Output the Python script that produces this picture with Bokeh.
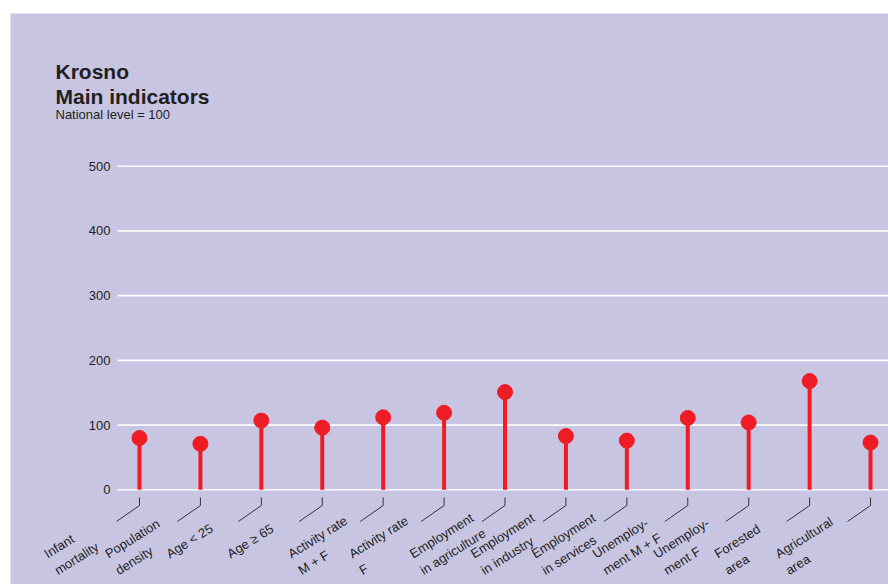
from bokeh.plotting import figure
from bokeh.models import ColumnDataSource, LabelSet, Label, FixedTicker, Range1d
from bokeh.core.properties import value
from bokeh.embed import file_html
from bokeh.resources import INLINE

# ---- data ----
categories = ["Infant\nmortality", "Population\ndensity", "Age < 25", "Age ≥ 65",
              "Activity rate\nM + F", "Activity rate\nF", "Employment\nin agriculture",
              "Employment\nin industry", "Employment\nin services", "Unemploy-\nment M + F",
              "Unemploy-\nment F", "Forested\narea", "Agricultural\narea"]
values = [80, 71, 107, 96, 112, 119, 151, 83, 76, 111, 104, 168, 73]
y_ticks = [0, 100, 200, 300, 400, 500]

BG = "#C8C5E3"
RED = "#EE1D25"
TXT = "#231F20"
FONT = "Liberation Sans"

# scale helpers (pixels per data unit)
PXX = 60.92
PXY = 0.6472

idx = list(range(len(values)))
X0, X1 = -2.1175, 12.295
AXIS_X = -22 / PXX  # where the value axis / gridlines start

p = figure(width=878, height=571, output_backend="svg", toolbar_location=None,
           x_axis_type=None, x_range=Range1d(X0, X1), y_range=Range1d(-146.3, 735.9),
           min_border_left=0, min_border_right=0, min_border_top=0, min_border_bottom=0,
           background_fill_color=BG, border_fill_color=BG, outline_line_color=None,
           margin=(13, 0, 0, 10))

yax = p.yaxis[0]
yax.fixed_location = AXIS_X
yax.ticker = FixedTicker(ticks=y_ticks)
yax.axis_line_color = None
yax.major_tick_line_color = None
yax.minor_tick_line_color = None
yax.major_tick_out = 0
yax.major_tick_in = 0
yax.major_label_standoff = 7
yax.major_label_text_font = FONT
yax.major_label_text_font_size = "13px"
yax.major_label_text_color = TXT
p.ygrid.visible = False

# gridlines starting at the value axis
grid = ColumnDataSource(dict(y=y_ticks, x0=[AXIS_X] * len(y_ticks), x1=[X1] * len(y_ticks)))
p.segment(x0="x0", y0="y", x1="x1", y1="y", source=grid, line_color="white",
          line_width=1.6, line_alpha=0.95)

src = ColumnDataSource(dict(x=idx, y=values, zero=[0] * len(values)))
p.segment(x0="x", y0="zero", x1="x", y1="y", source=src, line_color=RED, line_width=4)
p.scatter(x="x", y="y", source=src, size=15, fill_color=RED, line_color=RED)

# leader lines under each category
tick_top = -(497 - 489.3) / PXY
tick_bot = -(505 - 489.3) / PXY
diag_end_y = -(521 - 489.3) / PXY
diag_dx = 23 / PXX
lead = ColumnDataSource(dict(
    x=idx,
    xd=[i - diag_dx for i in idx],
    yt=[tick_top] * len(idx),
    yb=[tick_bot] * len(idx),
    ye=[diag_end_y] * len(idx),
))
p.segment(x0="x", y0="yt", x1="x", y1="yb", source=lead, line_color="#333333", line_width=1)
p.segment(x0="x", y0="yb", x1="xd", y1="ye", source=lead, line_color="#333333", line_width=1)

# rotated category labels
lab_y = -(548 - 489.3) / PXY
lab_dx = 98 / PXX
lab_src = ColumnDataSource(dict(
    x=[i - lab_dx for i in idx],
    y=[lab_y] * len(idx),
    text=categories,
))
labels = LabelSet(x="x", y="y", text="text", source=lab_src, angle=32, angle_units="deg",
                  text_align="left", text_baseline="top", text_font=value(FONT),
                  text_font_size=value("13px"), text_color=TXT, text_line_height=1.3)
p.add_layout(labels)

# title block
for txt, yy, size, style in [("Krosno", 513, "21px", "bold"),
                             ("Main indicators", 488, "21px", "bold"),
                             ("National level = 100", 470, "13px", "normal")]:
    p.add_layout(Label(x=45, y=yy, x_units="screen", y_units="screen", text=txt,
                       text_font=FONT, text_font_size=size, text_font_style=style,
                       text_color=TXT, text_align="left", text_baseline="alphabetic"))

open("out.html", "w").write(file_html(p, INLINE))
